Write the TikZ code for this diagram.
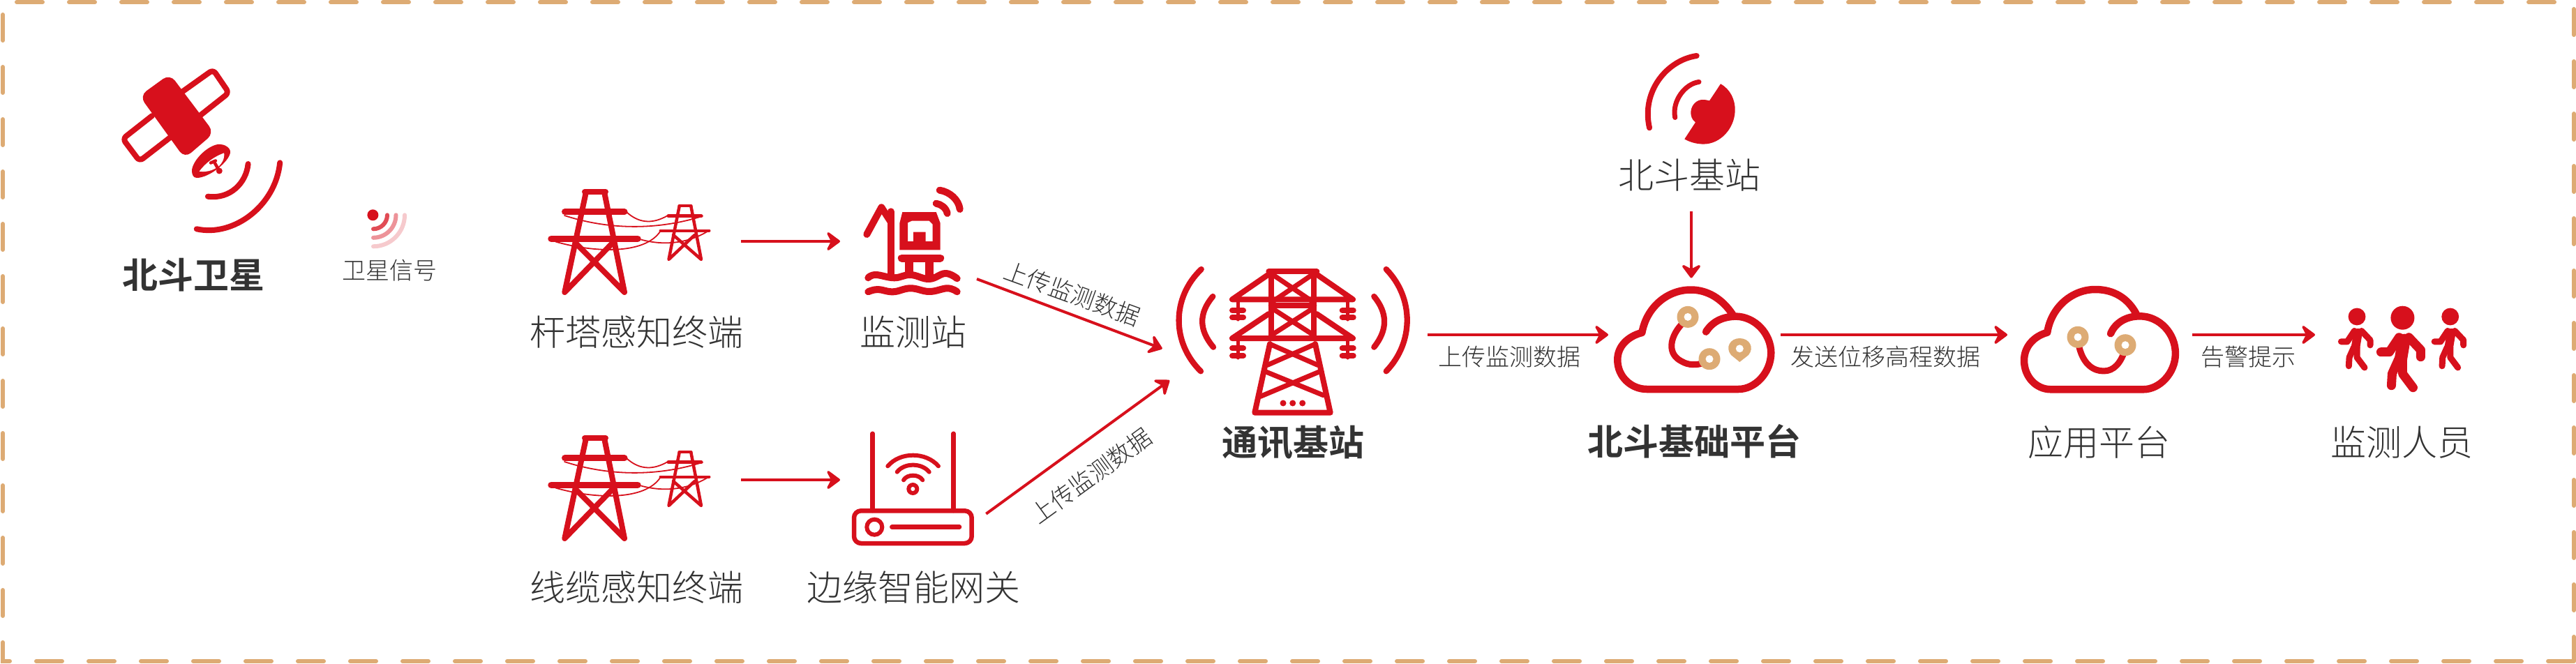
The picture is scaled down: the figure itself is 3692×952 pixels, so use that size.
\documentclass[tikz,border=0pt]{standalone}
\usepackage{fontspec}
\setmainfont{Noto Sans CJK SC Light}[BoldFont={Noto Sans CJK SC Bold}]
\usepackage{xcolor}
\usetikzlibrary{arrows.meta}

\definecolor{mainred}{HTML}{D7101C}
\definecolor{tan}{HTML}{DDAB74}
\definecolor{labelgray}{HTML}{333333}
\definecolor{boldgray}{HTML}{333333}

\begin{document}
\begin{tikzpicture}[
        x=0.25pt, y=-0.25pt,
        iconbox/.style 2 args={shape=rectangle, inner sep=0pt, outer sep=0pt, minimum width=#1*0.25pt, minimum height=#2*0.25pt},
        flow/.style={draw=mainred, line width=1pt, -{Stealth[length=5.75pt, width=8.5pt, inset=2.2pt, round]}},
        name text/.style={inner sep=0pt, text=labelgray, font=\fontsize{12.75}{15}\selectfont},
        bold text/.style={inner sep=0pt, text=boldgray, font=\fontsize{12.75}{15}\selectfont\bfseries},
        edge text/.style={inner sep=0pt, text=labelgray, font=\fontsize{8.5}{10}\selectfont},
        redline/.style={draw=mainred, line cap=round, line join=round, line width=#1*0.25pt},
        pics/poletower/.style={code={
            % large tower
            \draw[redline=8] (840,275) -- (809.3,419) -- (878.2,348);
            \draw[redline=8] (866,275) -- (895,419) -- (824.6,348);
            \draw[redline=8] (838,275) -- (868,275);
            \draw[redline=9] (809.5,303.7) -- (895,303.7);
            \draw[redline=9.5] (790,342.3) -- (914,342.3);
            % small tower
            \draw[redline=4.5] (973.6,296) -- (958.5,372) -- (995.5,337);
            \draw[redline=4.5] (990.4,296) -- (1005,372) -- (965,337);
            \draw[redline=4.5] (973.6,295) -- (990.4,295);
            \draw[redline=5] (958,309.8) -- (1005,309.8);
            \draw[redline=4] (946.5,330.6) -- (1016.5,330.6);
            % wires
            \draw[redline=1.8] (898.6,304.6) .. controls (918,322) and (938,320) .. (957,309);
            \draw[redline=1.8] (809,309) .. controls (880,332) and (950,328) .. (1007,309.8);
            \draw[redline=1.8] (919,343.6) .. controls (950,352) and (985,350) .. (1016,330.6);
            \draw[redline=1.8] (796.5,346.6) .. controls (850,362) and (925,366) .. (947,330.6);
        }},
        pics/walker/.style={code={
            \fill[mainred] (0,0) circle[radius=17];
            \draw[redline=#1] (-5,28) -- (-19,49) -- (-31,49);
            \draw[redline=#1] (9,28) -- (26,46) -- (26,56);
            \draw[draw=mainred, line width=#1*0.35pt, line cap=round] (2,32) -- (-3,62);
            \draw[redline=#1] (-6,60) -- (-15,80) -- (-16,97);
            \draw[redline=#1] (0,60) -- (0,80) -- (15,100);
        }}
    ]
        \useasboundingbox (0,0) rectangle (3692,952);

        % Frame
        \draw[draw=tan, line width=1.5pt, line cap=round, dash pattern=on 9.25pt off 9.5pt]
            (3689,948) -- (4,948) -- (4,3) -- (3689,3) -- (3689,948);

        % Icon places
        \node[iconbox={292}{160}] (sensorA) at (916,346) {};
        \node[iconbox={292}{160}] (sensorB) at (916,688) {};
        \node[iconbox={196}{108}] (stationA) at (1302,346) {};
        \node[iconbox={209.3}{97.4}] (gateway) at (1308.65,688) {};
        \node[shape=circle, inner sep=0pt, outer sep=0pt, minimum size=95.4pt] (baseTower) at (1855.5,480) {};
        \node[iconbox={120}{243}] (bdStation) at (2424,181.5) {};
        \node[iconbox={247}{162.8}] (bdCloud) at (2428.5,480) {};
        \node[iconbox={265}{160}] (appCloud) at (3009.5,480) {};
        \node[iconbox={242}{130}] (staff) at (3439,500) {};

        % Satellite
        \draw[redline=8, rounded corners=1.5pt] (262,131) -- (305.5,100) -- (328,133) -- (285,167);
        \draw[redline=8, rounded corners=1.5pt] (218,166) -- (176,199) -- (200,231) -- (244,197);
        \fill[mainred, rounded corners=3pt] (243.5,106) -- (200,137.5) -- (264.6,227) -- (307,190.5) -- cycle;
        \fill[mainred] (330,219) .. controls (331,212) and (322,206) .. (312,207)
            .. controls (295,210) and (275,232) .. (275,245)
            .. controls (275,250) and (277,255) .. (282,255)
            .. controls (300,255) and (328,232) .. (330,219) -- cycle;
        \fill[white] (285.6,245.7) .. controls (295,233) and (308,224) .. (321.2,219.3)
            .. controls (322,228) and (318,234) .. (314,238)
            .. controls (305,245) and (295,247) .. (285.6,245.7) -- cycle;
        \draw[redline=4.5] (306.7,231.7) -- (314.3,245);
        \draw[redline=4.5] (302,233.5) -- (309,230.5);
        \fill[mainred] (314.3,245) circle[radius=4.5];
        \draw[redline=8] (355.6,235) .. controls (353,262) and (330,286) .. (297.9,281.7);
        \draw[redline=8] (401.2,233.3) .. controls (395,295) and (335,340) .. (281.8,328.3);

        % Satellite signal
        \fill[mainred] (534.4,308.3) circle[radius=8];
        \foreach \rad/\shade in {20/75, 32.5/45, 45/22} {
            \draw[draw=mainred!\shade, line cap=round, line width=1.5pt] (535+\rad,308.3) arc[start angle=0, end angle=90, radius=\rad];
        }

        % Pole and line terminals
        \pic (poleA) at (0,0) {poletower};
        \pic (poleB) at (0,353) {poletower};

        % Monitoring station
        \draw[redline=10] (1242.3,336) -- (1263.3,297.3) -- (1276.7,318);
        \draw[redline=10] (1276.7,303.3) -- (1276.7,395);
        \fill[mainred, even odd rule] (1293.3,304) -- (1341.7,304) -- (1347.7,320) -- (1347.7,358.3) -- (1289.3,358.3) -- (1289.3,320) -- cycle
            (1301,319.3) -- (1306.7,316.7) -- (1331.7,316.7) -- (1336.7,321.7) -- (1336.7,346) -- (1326.7,346) -- (1326.7,332.7) -- (1309,332.7) -- (1309,346) -- (1301,346) -- cycle;
        \draw[redline=11] (1292.3,370) -- (1347.7,370);
        \draw[draw=mainred, line width=3pt] (1303.4,370) -- (1303.4,396);
        \draw[draw=mainred, line width=3pt] (1332,370) -- (1332,396);
        \draw[redline=10] plot[smooth, tension=.7] coordinates {(1244.3,398.3) (1255,394) (1281.7,398.3) (1305,394) (1331.7,400) (1355,392) (1371.7,399.3)};
        \draw[redline=10] plot[smooth, tension=.7] coordinates {(1244.3,418.3) (1258,415) (1280,418.3) (1305,413.3) (1332,418) (1358,413.3) (1371.7,418.3)};
        \draw[redline=10] (1341.7,291.7) .. controls (1349,293) and (1356,298) .. (1357.7,306);
        \draw[redline=10] (1346.7,272.7) .. controls (1361,275) and (1374,286) .. (1375.7,300);

        % Edge gateway
        \draw[redline=6.5, rounded corners=2.5pt] (1224,732.3) rectangle (1392.7,779);
        \draw[redline=6.5] (1250.7,621.7) -- (1250.7,732);
        \draw[redline=6.5] (1366.7,621.7) -- (1366.7,732);
        \draw[draw=mainred, line width=1.5pt] (1253.3,755.7) circle[radius=11];
        \draw[redline=6.5] (1278.3,755.7) -- (1375,755.7);
        \fill[mainred] (1308.3,701) circle[radius=9];
        \fill[white] (1308.3,701) circle[radius=3];
        \draw[redline=6] (1295,688.3) .. controls (1300,679.5) and (1317,679.5) .. (1322.3,688.3);
        \draw[redline=6] (1285.7,676.7) .. controls (1296,663.3) and (1321,663.3) .. (1331.7,676.7);
        \draw[redline=6] (1272.3,668.3) .. controls (1290,647.5) and (1327,647.5) .. (1345,668.3);

        % Communication tower
        \begin{scope}[redline=8]
            \draw (1818.3,389.3) -- (1887.3,389.3);
            \draw (1821.7,389.3) -- (1821.7,485);
            \draw (1883.3,389.3) -- (1883.3,485);
            \draw (1821.7,438.3) -- (1883.3,438.3);
            \draw (1818.3,393.3) -- (1766,429.3) -- (1939,429.3) -- (1887,393.3);
            \draw (1818.3,450) -- (1766,485) -- (1939,485) -- (1887,450);
            \draw (1820,493) -- (1798.3,591.7) -- (1906.7,591.7) -- (1885,493);
        \end{scope}
        \begin{scope}[redline=7]
            \draw (1823,393) -- (1882,433);
            \draw (1882,393) -- (1823,433);
            \draw (1823,442) -- (1882,480);
            \draw (1882,442) -- (1823,480);
            \draw (1820,493.3) -- (1888.3,523.3);
            \draw (1885,493.3) -- (1816.7,523.3);
            \draw (1815,533.3) -- (1896.7,566.7);
            \draw (1890,533.3) -- (1806.7,568.3);
        \end{scope}
        \foreach \dx in {1774,1931.7} {
            \draw[redline=5] (\dx,431) -- (\dx,458);
            \draw[redline=8] (\dx-8,445) -- (\dx+8,445);
            \draw[redline=8] (\dx-8,455) -- (\dx+8,455);
            \draw[redline=5] (\dx,487) -- (\dx,513);
            \draw[redline=8] (\dx-8,499.3) -- (\dx+8,499.3);
            \draw[redline=8] (\dx-8,510) -- (\dx+8,510);
        }
        \foreach \dx in {1839,1852.7,1866.7} {
            \fill[mainred] (\dx,578) circle[radius=4.5];
        }
        \draw[redline=8.3] (1721.7,386) .. controls (1679,427) and (1679,491) .. (1721,532.3);
        \draw[redline=8.3] (1738.3,425) .. controls (1718,449) and (1718,473) .. (1739,497.7);
        \draw[redline=8.3] (1986.7,386) .. controls (2026.7,427) and (2026.7,491) .. (1986.7,532.3);
        \draw[redline=8.3] (1969.3,425) .. controls (1989,449) and (1989,473) .. (1969.3,497.7);

        % Beidou base station
        \fill[mainred] (2466,120.3) .. controls (2480,128) and (2487,143) .. (2486.7,158.4)
            .. controls (2486,185) and (2465,206.6) .. (2441.7,206.6)
            .. controls (2432,206.6) and (2422,204) .. (2414.3,199.4) -- (2430,175.3)
            .. controls (2425,172) and (2423,166) .. (2423.3,160.4)
            .. controls (2424,150) and (2432,143) .. (2440,143)
            .. controls (2444,143) and (2447,143.5) .. (2450,144.4) -- cycle;
        \draw[redline=7] (2435,117.5) .. controls (2415,120) and (2396,145) .. (2400.7,168.5);
        \draw[redline=8] (2431.7,80) .. controls (2390,86) and (2352,130) .. (2364,183.3);

        % Beidou platform cloud
        \draw[redline=10.5] (2445,475.7) .. controls (2455,460) and (2470,454) .. (2488,453.6)
            .. controls (2515,454) and (2538,478) .. (2538.3,505.8)
            .. controls (2538,535) and (2515,558) .. (2491.7,558) -- (2360,558)
            .. controls (2338,558) and (2318,540) .. (2318.3,515.9)
            .. controls (2318,497) and (2333,482) .. (2353.3,477)
            .. controls (2360,440) and (2390,415.5) .. (2423.3,415.5)
            .. controls (2447,415.5) and (2468,428) .. (2483.3,451);
        \draw[redline=9] (2410,465) .. controls (2392,485) and (2390,508) .. (2410,518)
            .. controls (2420,524) and (2432,524) .. (2442,520);
        \foreach \px/\py in {2419/454.4, 2450/514.7} {
            \fill[tan] (\px,\py) circle[radius=15.5];
            \fill[white] (\px,\py) circle[radius=5.5];
        }
        \fill[tan] (2493.3,519) -- (2481,509) .. controls (2472,498) and (2480,485) .. (2493.3,485)
            .. controls (2507,485) and (2515,498) .. (2506,509) -- cycle;
        \fill[white] (2493.3,499.8) circle[radius=5.5];

        % Application cloud
        \draw[redline=10.5] (3025,478.3) .. controls (3032,462) and (3048,453.3) .. (3066.8,453.3)
            .. controls (3095,453.3) and (3117.9,478) .. (3117.9,506.7)
            .. controls (3117.9,535) and (3095,558.3) .. (3072,558.3) -- (2939.3,558.3)
            .. controls (2918,558.3) and (2901,540) .. (2901,516.7)
            .. controls (2901,497) and (2915,482) .. (2934.2,476.7)
            .. controls (2940,440) and (2970,415) .. (3003,415)
            .. controls (3030,415) and (3050,428) .. (3061.7,450);
        \draw[redline=9] (2980,498) .. controls (2986,522) and (3000,532) .. (3015,532)
            .. controls (3030,532) and (3040,520) .. (3046,500);
        \foreach \px/\py in {2978/483.3, 3046/494.7} {
            \fill[tan] (\px,\py) circle[radius=15.5];
            \fill[white] (\px,\py) circle[radius=5.5];
        }

        % Staff
        \pic[scale=.73] (walkerL) at (3378,454) {walker=9};
        \pic (walkerM) at (3443.4,455.7) {walker=13};
        \pic[scale=.73] (walkerR) at (3511.7,454) {walker=9};

        % Labels
        \node[bold text] (satName) at (277,394) {北斗卫星};
        \node[edge text] (signalName) at (558,388) {卫星信号};
        \node[name text] (sensorAName) at (912,476) {杆塔感知终端};
        \node[name text] (sensorBName) at (912,842) {线缆感知终端};
        \node[name text] (stationName) at (1309,476) {监测站};
        \node[name text] (gatewayName) at (1309,842) {边缘智能网关};
        \node[bold text] (towerName) at (1853.5,635) {通讯基站};
        \node[name text] (bdStationName) at (2421,251) {北斗基站};
        \node[bold text] (bdCloudName) at (2428,633) {北斗基础平台};
        \node[name text] (appName) at (3008,634) {应用平台};
        \node[name text] (staffName) at (3442,634) {监测人员};

        % Connectors
        \draw[flow] (sensorA.east) -- (stationA.west);
        \draw[flow] (sensorB.east) -- (gateway.west);
        \draw[flow] (stationA.south east) -- node[edge text, midway, rotate=-20, xshift=-1.56pt, yshift=7.2pt] (uploadA) {上传监测数据} (baseTower.186.5);
        \draw[flow] (gateway.south east) -- node[edge text, midway, rotate=36, xshift=-2.2pt, yshift=-10.97pt] (uploadB) {上传监测数据} (baseTower.200.1);
        \draw[flow] (baseTower.east) -- node[edge text, midway, xshift=-3.1pt, yshift=-7.9pt] (uploadC) {上传监测数据} (bdCloud.west);
        \draw[flow] (bdStation.south) -- (bdStation.south |- bdCloud.north);
        \draw[flow] (bdCloud.east) -- node[edge text, midway, xshift=-3.1pt, yshift=-7.9pt] (sendData) {发送位移高程数据} (appCloud.west);
        \draw[flow] (appCloud.east) -- node[edge text, midway, xshift=-2pt, yshift=-7.9pt] (alarm) {告警提示} (staff.west |- appCloud.east);
    \end{tikzpicture}
\end{document}
